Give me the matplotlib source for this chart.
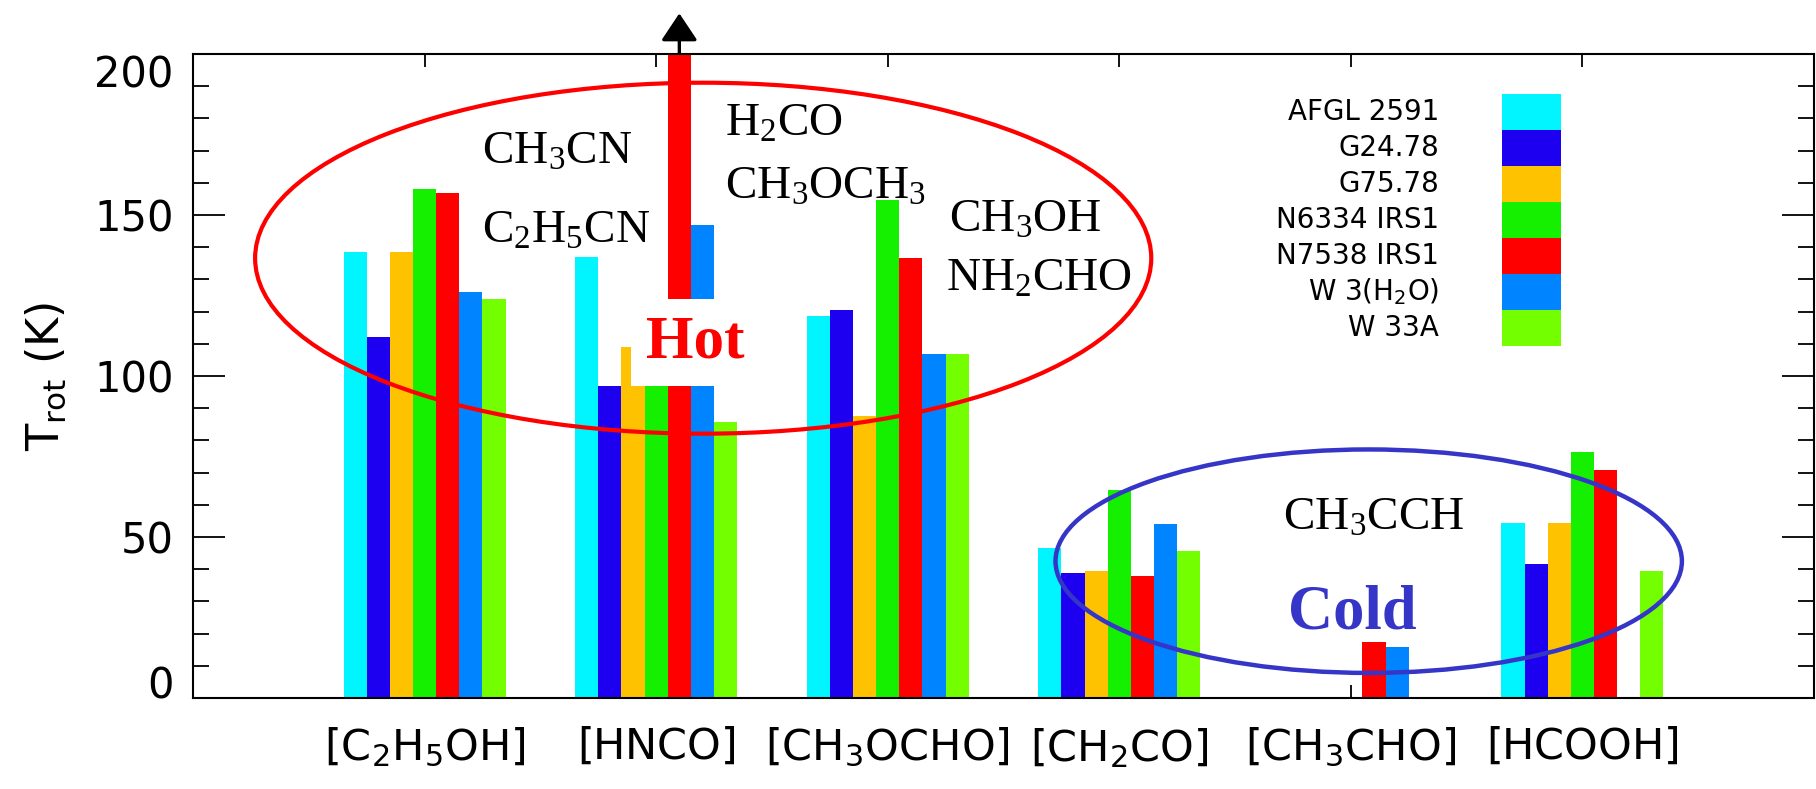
import numpy as np
import matplotlib
matplotlib.use("Agg")
import matplotlib.pyplot as plt
from matplotlib.patches import Ellipse, Rectangle
from matplotlib.ticker import MultipleLocator

plt.rcParams['mathtext.default'] = 'regular'

# rotational temperatures (K) per molecule, one list per source
molecules = [r'$[C_2H_5OH]$', r'$[HNCO]$', r'$[CH_3OCHO]$',
             r'$[CH_2CO]$', r'$[CH_3CHO]$', r'$[HCOOH]$']
sources = ['AFGL 2591', 'G24.78', 'G75.78', 'N6334 IRS1',
           'N7538 IRS1', r'W 3(H$_2$O)', 'W 33A']
colors = ['#00f5ff', '#1e00f0', '#ffc200', '#14f000',
          '#ff0000', '#0084ff', '#73ff00']

nan = np.nan
afgl2591 = [138.5, 137.0, 118.5, 46.7, nan, 54.5]
g2478 = [112.0, 97.0, 120.5, 38.7, nan, 41.6]
g7578 = [138.5, 109.0, 87.7, 39.5, nan, 54.5]
n6334 = [158.0, 105.0, 154.8, 64.5, nan, 76.4]
n7538 = [157.0, 200.0, 136.6, 37.8, 17.5, 70.7]   # HNCO is a lower limit
w3h2o = [126.0, 146.8, 106.7, 53.9, 15.7, nan]
w33a = [124.0, 85.8, 106.7, 45.6, nan, 39.6]
values = [afgl2591, g2478, g7578, n6334, n7538, w3h2o, w33a]

hot_list = [(r'CH$_3$CN', 1.246, 166.0), (r'C$_2$H$_5$CN', 1.246, 141.3),
            (r'H$_2$CO', 2.296, 174.6), (r'CH$_3$OCH$_3$', 2.296, 155.0),
            (r'CH$_3$OH', 3.263, 144.9), (r'NH$_2$CHO', 3.25, 126.5)]
cold_list = [(r'CH$_3$CCH', 4.706, 52.3)]

fig = plt.figure(figsize=(18.16, 7.89), dpi=100)
ax = fig.add_axes([0.1063, 0.1153, 0.8926, 0.8162])

x = np.arange(1, len(molecules) + 1)
w = 0.1
for i, (vals, c) in enumerate(zip(values, colors)):
    ax.bar(x + (i - 3) * w, vals, width=w, color=c, linewidth=0, zorder=2)

# lower-limit arrow on N7538 IRS1 / HNCO
xa = x[1] + (4 - 3) * w
ax.annotate('', xy=(xa, 213.5), xytext=(xa, 199.5), annotation_clip=False,
            arrowprops=dict(arrowstyle='-|>,head_length=0.6,head_width=0.4',
                            mutation_scale=28, lw=2.4, color='black'), zorder=5)

ax.set_xlim(0, 7)
ax.set_ylim(0, 200)
ax.set_xticks(x)
ax.set_xticklabels(molecules)
ax.set_yticks([0, 50, 100, 150, 200])
ax.yaxis.set_minor_locator(MultipleLocator(10))
ax.tick_params(axis='x', direction='in', top=True, length=9.5, width=1.3,
               labelsize=31, pad=20)
ax.tick_params(axis='y', which='major', direction='in', right=True,
               length=23, width=1.3, labelsize=30, pad=14)
ax.tick_params(axis='y', which='minor', direction='in', right=True,
               length=11.5, width=1.3)
ylab = ax.get_yticklabels()
ylab[0].set_verticalalignment('baseline')
ylab[-1].set_verticalalignment('top')
for s in ax.spines.values():
    s.set_linewidth(1.5)

ax.set_ylabel(r'T$_{rot}$ (K)', fontsize=32)
ax.yaxis.set_label_coords(-0.077, 0.5)

# hot / cold regions
ax.add_patch(Ellipse((2.203, 136.6), 3.87, 109, fill=False, ec='#ff0000',
                     lw=3.0, zorder=3))
ax.add_patch(Ellipse((5.077, 42.5), 2.705, 69.4, fill=False, ec='#3535c8',
                     lw=3.2, zorder=3))

serif = 'Liberation Serif'
for lab, tx, ty in hot_list + cold_list:
    ax.text(tx, ty, lab, family=serif, fontsize=34, va='baseline', ha='left',
            zorder=4)
ax.text(2.17, 105.7, 'Hot', family=serif, fontsize=44, fontweight='bold',
        color='#ff0000', ha='center', va='baseline', zorder=4,
        bbox=dict(boxstyle='square,pad=0.25', fc='white', ec='none'))
ax.text(4.728, 21.7, 'Cold', family=serif, fontsize=45, fontweight='bold',
        color='#3535c8', ha='left', va='baseline', zorder=4)

# legend: labels on the left, colour boxes on the right
row_h = 0.0559
for i, (name, c) in enumerate(zip(sources, colors)):
    y0 = 0.938 - (i + 1) * row_h
    ax.add_patch(Rectangle((0.8076, y0), 0.0364, row_h, transform=ax.transAxes,
                           fc=c, ec='none', zorder=4))
    ax.text(0.7688, y0 + row_h / 2, name, transform=ax.transAxes, fontsize=20,
            ha='right', va='center', zorder=4)

fig.savefig('out.png', dpi=100)
